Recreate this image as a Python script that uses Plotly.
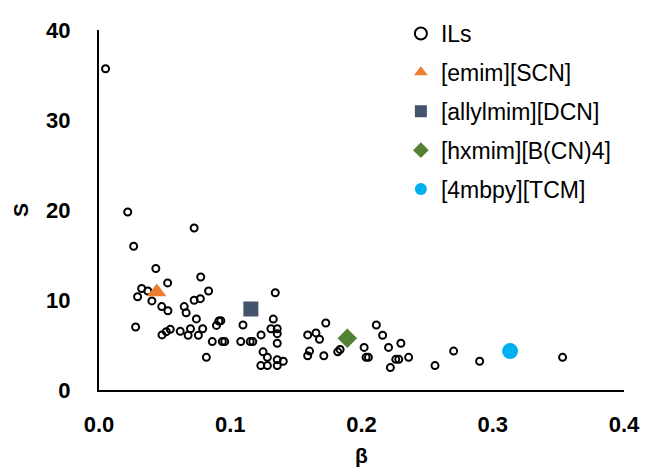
import plotly.graph_objects as go

ils_beta = [0.005, 0.0219, 0.0725, 0.0264, 0.0433, 0.0523, 0.0775, 0.0325, 0.0372, 0.0294,
            0.0835, 0.0403, 0.0478, 0.0525, 0.0649, 0.0664, 0.0725, 0.0772, 0.0742, 0.1343,
            0.0279, 0.048, 0.0513, 0.0543, 0.0619, 0.0679, 0.0697, 0.0757, 0.079, 0.0895,
            0.0913, 0.0928, 0.0863, 0.094, 0.0958, 0.0818, 0.1097, 0.108, 0.1152, 0.1172,
            0.1235, 0.1328, 0.131, 0.1358, 0.1358, 0.1358, 0.125, 0.1283, 0.1233, 0.1283,
            0.1358, 0.1358, 0.1404,
            0.1728, 0.159, 0.1653, 0.168, 0.1604, 0.159, 0.1713, 0.1819, 0.1837, 0.2113,
            0.2161, 0.2020, 0.2035, 0.2053, 0.2206, 0.23, 0.222, 0.2261, 0.2284, 0.2359,
            0.256, 0.2702, 0.29, 0.3532]
ils_s = [35.7, 19.78, 18.0, 15.97, 13.5, 11.9, 12.56, 11.28, 11.0, 10.36,
         11.0, 9.9, 9.27, 8.8, 9.27, 8.57, 9.97, 10.15, 7.9, 10.8,
         7.0, 6.12, 6.48, 6.74, 6.52, 6.08, 6.8, 6.08, 6.8, 7.18,
         7.66, 7.7, 5.38, 5.38, 5.38, 3.63, 7.22, 5.38, 5.38, 5.38,
         6.12, 7.88, 6.8, 6.8, 6.26, 5.2, 4.24, 3.63, 2.71, 2.71,
         3.37, 2.71, 3.19,
         7.44, 6.12, 6.34, 5.64, 4.32, 3.81, 3.81, 4.24, 4.5, 7.22,
         6.08, 4.73, 3.63, 3.63, 4.73, 5.2, 2.49, 3.41, 3.41, 3.63,
         2.71, 4.32, 3.19, 3.63]

special_names = ["[emim][SCN]", "[allylmim][DCN]", "[hxmim][B(CN)4]", "[4mbpy][TCM]"]
special_beta = [0.044, 0.1157, 0.1892, 0.3132]
special_s = [10.9, 9.0, 5.75, 4.32]
special_symbols = ["triangle-up", "square", "diamond", "circle"]
special_colors = ["#ED7D31", "#44546A", "#548235", "#00B0F0"]
special_sizes = [17, 15, 15, 16]

x_ticks = [0.0, 0.1, 0.2, 0.3, 0.4]
x_ticklabels = ["0.0", "0.1", "0.2", "0.3", "0.4"]
y_ticks = [0, 10, 20, 30, 40]

fig = go.Figure()
fig.add_trace(go.Scatter(
    x=ils_beta, y=ils_s, mode="markers", name="ILs", legendgroup="g0",
    marker=dict(symbol="circle-open", size=7, color="black", line=dict(width=2, color="black")),
))
for i, (n, bx, sy, sym, col, sz) in enumerate(zip(special_names, special_beta, special_s,
                                                   special_symbols, special_colors, special_sizes)):
    fig.add_trace(go.Scatter(
        x=[bx], y=[sy], mode="markers", name=n, legendgroup=f"g{i+1}",
        marker=dict(symbol=sym, size=sz, color=col, line=dict(width=0)),
    ))

font_family = "Liberation Sans, Arial, sans-serif"
fig.update_layout(
    width=652, height=476,
    margin=dict(l=99, r=22, t=26, b=86),
    paper_bgcolor="white", plot_bgcolor="white",
    font=dict(family=font_family, color="black"),
    showlegend=True,
    legend=dict(x=0.575, y=1.05, xanchor="left", yanchor="top",
                font=dict(size=23, family=font_family, color="black"),
                bgcolor="rgba(0,0,0,0)", itemsizing="constant",
                tracegroupgap=6, itemwidth=30),
    xaxis=dict(range=[0, 0.4], tickvals=x_ticks, ticktext=x_ticklabels,
               showgrid=False, zeroline=False, showline=True, linecolor="black", linewidth=2,
               ticks="", ticklabelstandoff=14,
               tickfont=dict(size=22, family=font_family, weight="bold"),
               title=dict(text="β", font=dict(size=21, family=font_family, weight="bold"), standoff=12)),
    yaxis=dict(range=[0, 40], tickvals=y_ticks,
               showgrid=False, zeroline=False, showline=True, linecolor="black", linewidth=2,
               ticks="", ticklabelstandoff=22,
               tickfont=dict(size=22, family=font_family, weight="bold"),
               title=dict(text="S", font=dict(size=21, family=font_family, weight="bold"), standoff=12)),
)
fig.write_html("out.html")
